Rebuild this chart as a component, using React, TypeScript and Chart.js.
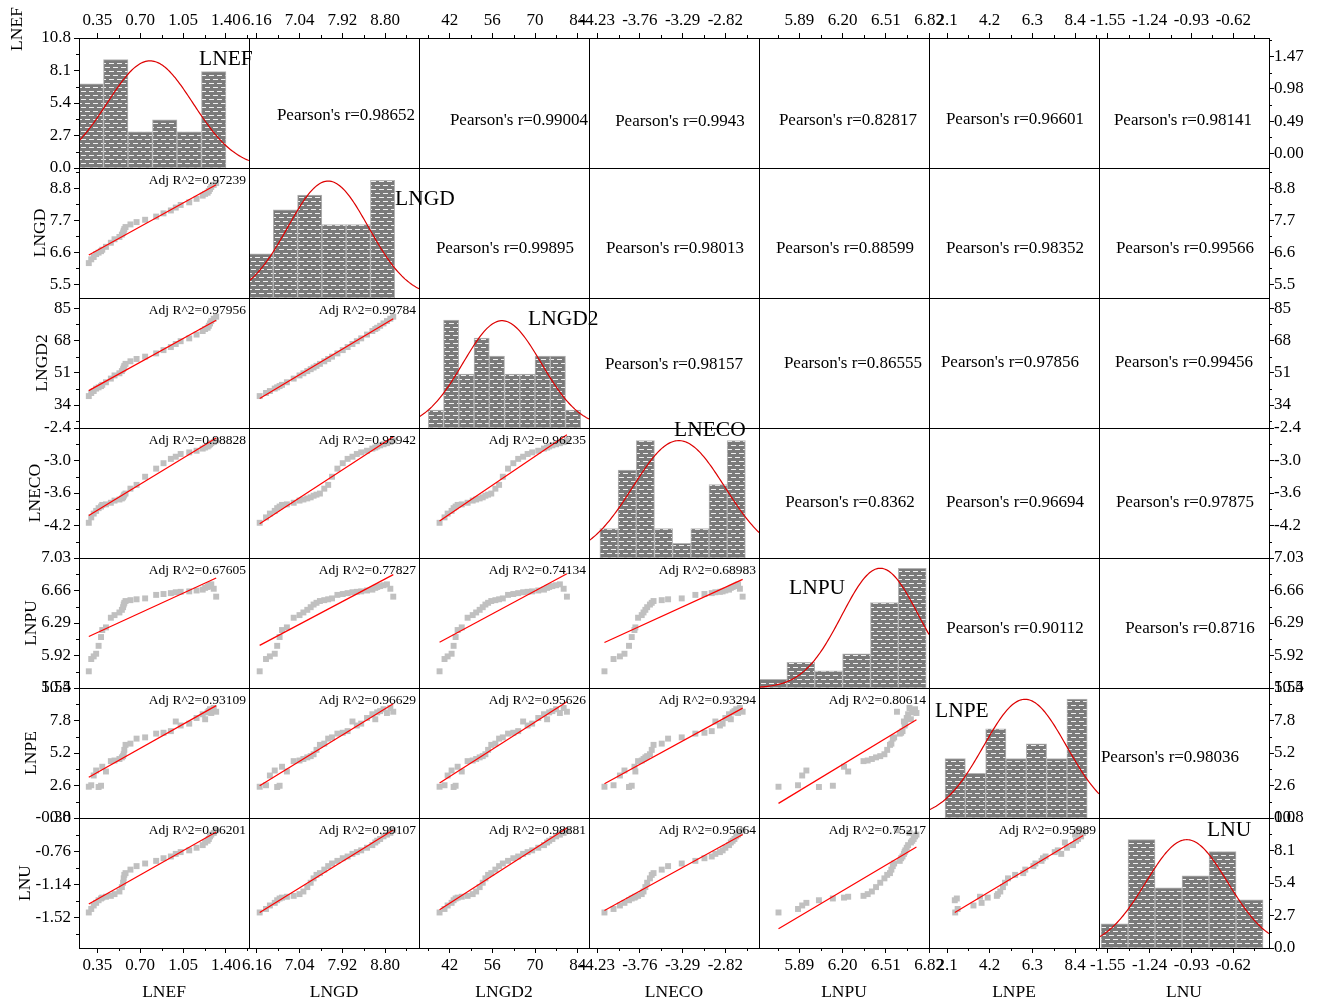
import React, { useEffect, useRef } from 'react';
import { Chart, registerables } from 'chart.js';

Chart.register(...registerables);

const FONT = '"Liberation Serif", "Times New Roman", serif';
Chart.defaults.font.family = FONT;

// ---------------- data (34 yearly observations, time ordered) ----------------
const VARIABLES = ['LNEF', 'LNGD', 'LNGD2', 'LNECO', 'LNPU', 'LNPE', 'LNU'];

const LNEF = [0.28, 0.30, 0.32, 0.34, 0.36, 0.38, 0.39, 0.42, 0.46, 0.49, 0.53, 0.55, 0.56, 0.565, 0.57, 0.58, 0.62, 0.67, 0.74, 0.83, 0.89, 0.95, 0.99, 1.03, 1.10, 1.16, 1.21, 1.23, 1.25, 1.26, 1.27, 1.28, 1.30, 1.32];
const LNGD = [6.22, 6.35, 6.43, 6.53, 6.58, 6.63, 6.68, 6.78, 6.92, 7.04, 7.12, 7.20, 7.27, 7.33, 7.39, 7.46, 7.55, 7.63, 7.71, 7.82, 7.93, 8.03, 8.13, 8.22, 8.31, 8.43, 8.54, 8.60, 8.64, 8.70, 8.77, 8.84, 8.91, 8.97];
const LNGD2 = [38.69, 40.32, 41.34, 42.64, 43.30, 43.96, 44.62, 45.97, 47.89, 49.56, 50.69, 51.84, 52.85, 53.73, 54.61, 55.65, 57.00, 58.22, 59.44, 61.15, 62.88, 64.48, 66.10, 67.57, 69.06, 71.06, 72.93, 73.96, 74.65, 75.69, 76.91, 78.15, 79.39, 80.46];
const LNECO = [-4.15, -4.05, -3.98, -3.93, -3.88, -3.85, -3.82, -3.81, -3.78, -3.74, -3.72, -3.70, -3.68, -3.65, -3.63, -3.61, -3.52, -3.45, -3.30, -3.15, -3.05, -2.97, -2.93, -2.88, -2.85, -2.82, -2.78, -2.76, -2.74, -2.72, -2.70, -2.68, -2.66, -2.63];
const LNPU = [5.74, 5.88, 5.91, 5.94, 6.03, 6.13, 6.21, 6.24, 6.35, 6.38, 6.41, 6.44, 6.47, 6.50, 6.52, 6.54, 6.55, 6.56, 6.57, 6.61, 6.62, 6.63, 6.64, 6.645, 6.65, 6.66, 6.67, 6.69, 6.70, 6.71, 6.72, 6.73, 6.68, 6.59];
const LNPE = [2.50, 2.62, 3.40, 3.80, 2.48, 2.58, 4.10, 3.72, 4.55, 4.60, 4.72, 4.85, 4.95, 5.10, 5.45, 5.85, 5.95, 6.35, 6.45, 6.75, 6.82, 6.95, 7.72, 7.40, 7.55, 8.00, 8.30, 7.90, 8.45, 8.55, 8.70, 8.40, 8.80, 8.50];
const LNU = [-1.46, -1.42, -1.38, -1.35, -1.32, -1.30, -1.29, -1.28, -1.27, -1.25, -1.22, -1.17, -1.12, -1.07, -1.03, -1.01, -0.97, -0.93, -0.90, -0.87, -0.84, -0.82, -0.79, -0.77, -0.75, -0.72, -0.69, -0.66, -0.64, -0.62, -0.59, -0.57, -0.55, -0.52];
const SERIES = [LNEF, LNGD, LNGD2, LNECO, LNPU, LNPE, LNU];

// histograms on the diagonal
const HIST_START = [0.2, 6.0, 35, -4.2, 5.6, 2, -1.6];
const HIST_BIN = [0.2, 0.5, 5, 0.2, 0.2, 1, 0.2];
const HIST_LNEF = [7, 9, 3, 4, 3, 8];
const HIST_LNGD = [3, 6, 7, 5, 5, 8];
const HIST_LNGD2 = [1, 6, 3, 5, 4, 3, 3, 4, 4, 1];
const HIST_LNECO = [2, 6, 8, 2, 1, 2, 5, 8];
const HIST_LNPU = [1, 3, 2, 4, 10, 14];
const HIST_LNPE = [4, 3, 6, 4, 5, 4, 8];
const HIST_LNU = [2, 9, 5, 6, 8, 4];
const HIST_COUNTS = [HIST_LNEF, HIST_LNGD, HIST_LNGD2, HIST_LNECO, HIST_LNPU, HIST_LNPE, HIST_LNU];
const HIST_YMAX = [10.8, 8.84, 7.22, 8.86, 15.2, 8.75, 10.8];
// normal curve fitted over each histogram
const NORM_MEAN = [0.78, 7.63, 59.2, -3.332, 6.47, 5.94, -0.965];
const NORM_SD = [0.35, 0.83, 12.8, 0.505, 0.276, 2.04, 0.303];
const NORM_PEAK = [8.9, 7.95, 5.96, 8.0, 14.0, 7.99, 9.0];

// correlation labels
const PEARSON_R: (string | null)[][] = [
  [null, '0.98652', '0.99004', '0.9943', '0.82817', '0.96601', '0.98141'],
  [null, null, '0.99895', '0.98013', '0.88599', '0.98352', '0.99566'],
  [null, null, null, '0.98157', '0.86555', '0.97856', '0.99456'],
  [null, null, null, null, '0.8362', '0.96694', '0.97875'],
  [null, null, null, null, null, '0.90112', '0.8716'],
  [null, null, null, null, null, null, '0.98036'],
  [null, null, null, null, null, null, null],
];
const ADJ_R2: (string | null)[][] = [
  [null, null, null, null, null, null, null],
  ['0.97239', null, null, null, null, null, null],
  ['0.97956', '0.99784', null, null, null, null, null],
  ['0.98828', '0.95942', '0.96235', null, null, null, null],
  ['0.67605', '0.77827', '0.74134', '0.68983', null, null, null],
  ['0.93109', '0.96629', '0.95626', '0.93294', '0.80614', null, null],
  ['0.96201', '0.99107', '0.98881', '0.95664', '0.75217', '0.95989', null],
];

// axes: columns (x) and rows (y)
const X_MIN = [0.2, 6.0, 31.95, -4.32, 5.6, 1.21, -1.615];
const X_MAX = [1.588, 9.5, 87.7, -2.45, 6.82, 9.58, -0.356];
const X_TICKS = [[0.35, 0.70, 1.05, 1.40], [6.16, 7.04, 7.92, 8.80], [42, 56, 70, 84], [-4.23, -3.76, -3.29, -2.82], [5.89, 6.20, 6.51, 6.82], [2.1, 4.2, 6.3, 8.4], [-1.55, -1.24, -0.93, -0.62]];
const X_DEC = [2, 2, 0, 2, 2, 1, 2];
const Y_MIN = [0, 5.02, 21.9, -4.8, 5.55, 0, -1.866];
const Y_MAX = [10.8, 9.49, 90.3, -2.4, 7.03, 10.4, -0.38];
const Y_TICKS = [[0, 2.7, 5.4, 8.1, 10.8], [5.5, 6.6, 7.7, 8.8], [34, 51, 68, 85], [-4.2, -3.6, -3.0, -2.4], [5.55, 5.92, 6.29, 6.66, 7.03], [0, 2.6, 5.2, 7.8, 10.4], [-1.52, -1.14, -0.76, -0.38]];
const Y_DEC = [1, 1, 0, 1, 2, 1, 2];
const R_MIN = [-0.22, 5.02, 21.9, -4.8, 5.55, 0, 0];
const R_MAX = [1.752, 9.49, 90.3, -2.4, 7.03, 10.4, 10.8];
const R_TICKS = [[0, 0.49, 0.98, 1.47], [5.5, 6.6, 7.7, 8.8], [34, 51, 68, 85], [-4.2, -3.6, -3.0, -2.4], [5.55, 5.92, 6.29, 6.66, 7.03], [0, 2.6, 5.2, 7.8, 10.4], [0, 2.7, 5.4, 8.1, 10.8]];
const R_DEC = [2, 1, 0, 1, 2, 1, 1];

// ---------------- layout (page pixels) ----------------
const GX = 79, GY = 38, CW = 170, CH = 130;
const M_L = 90, M_T = 40, M_R = 60, M_B = 62;
const AX_L = 60, AX_R = 50, AX_T = 30, AX_B = 45;
const CANVAS_W = CW + M_L + M_R, CANVAS_H = CH + M_T + M_B;
const PEARSON_POS: number[][][] = [
  [[], [97, 76], [100, 81], [91, 82], [89, 81], [86, 80], [84, 81]],
  [[], [], [86, 79], [86, 79], [86, 79], [86, 79], [86, 79]],
  [[], [], [], [85, 65], [94, 64], [81, 63], [85, 63]],
  [[], [], [], [], [91, 73], [86, 73], [86, 73]],
  [[], [], [], [], [], [86, 69], [91, 69]],
  [[], [], [], [], [], [], [71, 68]],
];
const DIAG_POS = [[120, 27], [146, 37], [109, 27], [85, 8], [30, 36], [6, 29], [108, 18]];
const LEFT_TITLE_X = [22, 45, 47, 40, 36, 36, 30];
const LEFT_TITLE_Y = [29, 233, 363, 493, 623, 753, 883];
const BOTTOM_TITLE_Y = 997;

let PATTERN: CanvasPattern | string | null = null;
function hatch(): CanvasPattern | string {
  if (PATTERN) return PATTERN;
  const c = document.createElement('canvas');
  c.width = 8; c.height = 8;
  const g = c.getContext('2d')!;
  g.fillStyle = '#7a7a7a'; g.fillRect(0, 0, 8, 8);
  g.fillStyle = '#f0f0f0';
  g.fillRect(0, 1, 5, 1);
  g.fillRect(4, 5, 4, 1);
  g.fillRect(0, 5, 1, 1);
  PATTERN = g.createPattern(c, 'repeat') || '#7a7a7a';
  return PATTERN;
}

function tickScale(pos: string, min: number, max: number, ticks: number[], dec: number, size: number, pad: number) {
  const horizontal = pos === 'top' || pos === 'bottom';
  return {
    type: 'linear', position: pos, min, max, display: true, offset: false,
    afterBuildTicks: (s: any) => { s.ticks = ticks.map((v) => ({ value: v })); },
    afterFit: (s: any) => { if (horizontal) s.height = size; else s.width = size; },
    ticks: {
      autoSkip: false, maxRotation: 0, minRotation: 0, padding: pad, color: '#000',
      font: { family: FONT, size: 17 },
      callback: (v: any) => Number(v).toFixed(dec),
    },
    grid: { display: true, drawOnChartArea: false, drawTicks: true, tickLength: 5, tickWidth: 1, color: '#000' },
    border: { display: true, color: '#000', width: 1 },
    _minor: { ticks, pos },
  };
}

function regression(xs: number[], ys: number[]) {
  const n = xs.length;
  const mx = xs.reduce((a, b) => a + b, 0) / n;
  const my = ys.reduce((a, b) => a + b, 0) / n;
  let sxy = 0, sxx = 0;
  for (let i = 0; i < n; i++) { sxy += (xs[i] - mx) * (ys[i] - my); sxx += (xs[i] - mx) ** 2; }
  const b = sxy / sxx, a = my - b * mx;
  const x0 = Math.min(...xs), x1 = Math.max(...xs);
  return [{ x: x0, y: a + b * x0 }, { x: x1, y: a + b * x1 }];
}

type TextItem = { text: string; x: number; y: number; size: number; align: CanvasTextAlign; rotate?: boolean };

function buildConfig(r: number, c: number) {
  const cellX = GX + CW * c, cellY = GY + CH * r;
  const offX = cellX - M_L, offY = cellY - M_T;
  const isDiag = r === c, isLower = r > c;
  const scales: any = {
    x: { type: 'linear', display: false, min: X_MIN[c], max: X_MAX[c], offset: false },
    y: { type: 'linear', display: false, min: isDiag ? 0 : Y_MIN[r], max: isDiag ? HIST_YMAX[r] : Y_MAX[r] },
  };
  if (r === 0) scales.xt = tickScale('top', X_MIN[c], X_MAX[c], X_TICKS[c], X_DEC[c], AX_T, 2);
  if (r === 6) scales.xb = tickScale('bottom', X_MIN[c], X_MAX[c], X_TICKS[c], X_DEC[c], AX_B, 2);
  if (c === 0) scales.yl = tickScale('left', Y_MIN[r], Y_MAX[r], Y_TICKS[r], Y_DEC[r], AX_L, 3);
  if (c === 6) scales.yr = tickScale('right', R_MIN[r], R_MAX[r], R_TICKS[r], R_DEC[r], AX_R, 0);

  const datasets: any[] = [];
  const texts: TextItem[] = [];
  if (isLower) {
    const xs = SERIES[c], ys = SERIES[r];
    datasets.push({
      type: 'line', data: regression(xs, ys), borderColor: '#ff0000', borderWidth: 1.2,
      pointRadius: 0, fill: false, tension: 0, order: 0, xAxisID: 'x', yAxisID: 'y',
    });
    datasets.push({
      type: 'scatter', data: xs.map((v, i) => ({ x: v, y: ys[i] })), pointStyle: 'rect', pointRadius: 4.2,
      backgroundColor: '#c0c0c0', borderWidth: 0, order: 1, xAxisID: 'x', yAxisID: 'y',
    });
    texts.push({ text: `Adj R^2=${ADJ_R2[r][c]}`, x: cellX + 167 - offX, y: cellY + 15.5 - offY, size: 13.5, align: 'right' });
  } else if (isDiag) {
    const counts = HIST_COUNTS[r];
    datasets.push({
      type: 'line',
      data: Array.from({ length: 121 }, (_, i) => {
        const x = X_MIN[c] + (X_MAX[c] - X_MIN[c]) * i / 120;
        return { x, y: NORM_PEAK[r] * Math.exp(-((x - NORM_MEAN[r]) ** 2) / (2 * NORM_SD[r] ** 2)) };
      }),
      borderColor: '#dd0000', borderWidth: 1.2, pointRadius: 0, fill: false, tension: 0, order: 0, xAxisID: 'x', yAxisID: 'y',
    });
    datasets.push({
      type: 'bar', data: counts.map((n, i) => ({ x: HIST_START[r] + (i + 0.5) * HIST_BIN[r], y: n })),
      backgroundColor: hatch(), borderColor: '#b4b4b4', borderWidth: 1, borderSkipped: false,
      barPercentage: 1, categoryPercentage: 1, grouped: false, order: 1, xAxisID: 'x', yAxisID: 'y',
    });
    texts.push({ text: VARIABLES[r], x: cellX + DIAG_POS[r][0] - offX, y: cellY + DIAG_POS[r][1] - offY, size: 21.5, align: 'left' });
  } else {
    const p = PEARSON_POS[r][c];
    texts.push({ text: `Pearson's r=${PEARSON_R[r][c]}`, x: cellX + p[0] - offX, y: cellY + p[1] + 5.5 - offY, size: 17, align: 'center' });
  }
  if (c === 0) texts.push({ text: VARIABLES[r], x: LEFT_TITLE_X[r] - offX, y: LEFT_TITLE_Y[r] - offY, size: 17.5, align: 'center', rotate: true });
  if (r === 6) texts.push({ text: VARIABLES[c], x: cellX + CW / 2 - offX, y: BOTTOM_TITLE_Y - offY, size: 17.5, align: 'center' });

  const overlay = {
    id: 'overlay',
    afterDraw(chart: any) {
      const ctx: CanvasRenderingContext2D = chart.ctx;
      const a = chart.chartArea;
      ctx.save();
      ctx.strokeStyle = '#000';
      ctx.lineWidth = 1;
      ctx.strokeRect(Math.round(a.left) + 0.5, Math.round(a.top) + 0.5, Math.round(a.right - a.left), Math.round(a.bottom - a.top));
      // minor ticks
      ['xt', 'xb', 'yl', 'yr'].forEach((id) => {
        const s = chart.scales[id];
        if (!s) return;
        const { ticks, pos } = s.options._minor;
        const step = ticks[1] - ticks[0];
        ctx.beginPath();
        for (let k = -1; k < ticks.length; k++) {
          const v = ticks[0] + (k + 0.5) * step;
          if (v < s.min - 1e-9 || v > s.max + 1e-9) continue;
          const p = Math.round(s.getPixelForValue(v)) + 0.5;
          if (pos === 'left') { ctx.moveTo(a.left - 3, p); ctx.lineTo(a.left, p); }
          if (pos === 'right') { ctx.moveTo(a.right, p); ctx.lineTo(a.right + 3, p); }
          if (pos === 'top') { ctx.moveTo(p, a.top - 3); ctx.lineTo(p, a.top); }
          if (pos === 'bottom') { ctx.moveTo(p, a.bottom); ctx.lineTo(p, a.bottom + 3); }
        }
        ctx.stroke();
      });
      ctx.fillStyle = '#000';
      ctx.textBaseline = 'alphabetic';
      texts.forEach((t) => {
        ctx.save();
        ctx.font = `${t.size}px ${FONT}`;
        ctx.textAlign = t.align;
        if (t.rotate) {
          ctx.translate(t.x, t.y);
          ctx.rotate(-Math.PI / 2);
          ctx.fillText(t.text, 0, 0);
        } else {
          ctx.fillText(t.text, t.x, t.y);
        }
        ctx.restore();
      });
      ctx.restore();
    },
  };

  return {
    type: 'scatter',
    data: { datasets },
    options: {
      animation: false, responsive: false, devicePixelRatio: 1, events: [],
      layout: {
        autoPadding: false,
        padding: {
          left: M_L - (c === 0 ? AX_L : 0),
          right: M_R - (c === 6 ? AX_R : 0),
          top: M_T - (r === 0 ? AX_T : 0),
          bottom: M_B - (r === 6 ? AX_B : 0),
        },
      },
      plugins: { legend: { display: false }, tooltip: { enabled: false }, title: { display: false } },
      scales,
    },
    plugins: [overlay],
  } as any;
}

function Cell({ r, c }: { r: number; c: number }) {
  const ref = useRef<HTMLCanvasElement>(null);
  useEffect(() => {
    const chart = new Chart(ref.current!, buildConfig(r, c));
    return () => chart.destroy();
  }, [r, c]);
  return (
    <canvas
      ref={ref}
      width={CANVAS_W}
      height={CANVAS_H}
      style={{ position: 'absolute', left: GX + CW * c - M_L, top: GY + CH * r - M_T, width: CANVAS_W, height: CANVAS_H }}
    />
  );
}

export default function App() {
  const cells: React.ReactNode[] = [];
  for (let r = 0; r < 7; r++) for (let c = 0; c < 7; c++) cells.push(<Cell key={`${r}-${c}`} r={r} c={c} />);
  return (
    <div style={{ position: 'absolute', left: 0, top: 0, width: 1320, height: 1004, overflow: 'hidden', background: '#fff' }}>
      {cells}
    </div>
  );
}
